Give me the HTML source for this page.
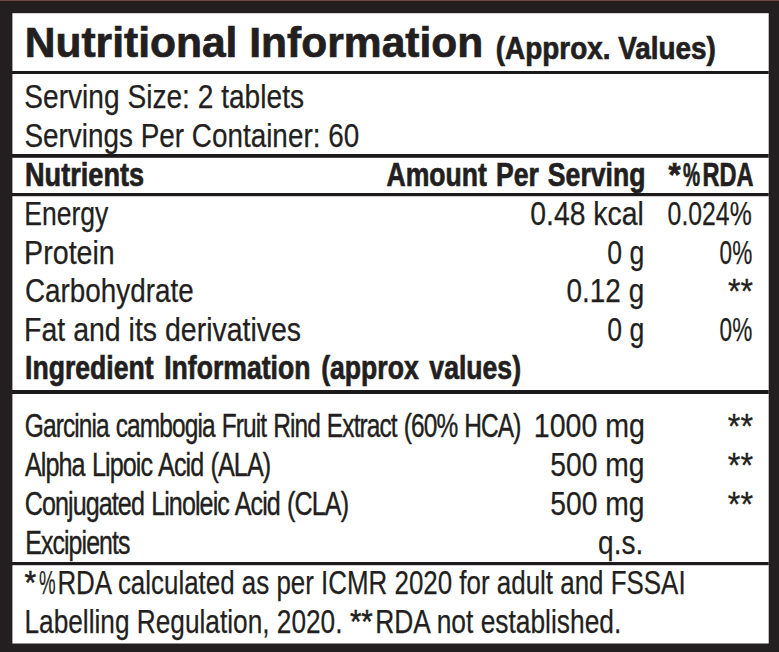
<!DOCTYPE html>
<html><head><meta charset="utf-8"><title>Nutritional Information</title>
<style>
html,body{margin:0;padding:0;background:#231f20;}
body{width:779px;height:652px;overflow:hidden;}
svg{display:block;}
text{fill:#231f20;}
</style></head><body>
<svg width="779" height="652" viewBox="0 0 779 652" font-family="'Liberation Sans', Arial, sans-serif">
<rect x="0" y="0" width="779" height="652" fill="#231f20"/>
<rect x="0" y="0" width="779" height="1.1" fill="#6a4a45"/>
<rect x="0" y="1.1" width="779" height="1.4" fill="#2c1b19"/>
<rect x="12.4" y="13.2" width="756.3" height="630.3" fill="#ffffff"/>
<rect x="12" y="71" width="756.7" height="3" fill="#1c1a1b"/>
<rect x="12" y="154" width="756.7" height="3.8" fill="#1c1a1b"/>
<rect x="12" y="193" width="756.7" height="3.2" fill="#1c1a1b"/>
<rect x="12" y="390" width="756.7" height="4" fill="#1c1a1b"/>
<rect x="12" y="562" width="756.7" height="3.2" fill="#1c1a1b"/>
<text id="t1" x="24.7" y="57.2" font-size="42.0" font-weight="bold" stroke="#231f20" stroke-width="0.7" textLength="458.6" lengthAdjust="spacingAndGlyphs">Nutritional Information</text>
<text id="t2" x="495.8" y="58.5" font-size="30.5" font-weight="bold" stroke="#231f20" stroke-width="0.7" textLength="220.1" lengthAdjust="spacingAndGlyphs">(Approx. Values)</text>
<text id="s1" x="24.3" y="107.9" font-size="33" stroke="#231f20" stroke-width="0.25" textLength="279.7" lengthAdjust="spacingAndGlyphs">Serving Size: 2 tablets</text>
<text id="s2" x="24.4" y="146.5" font-size="33" stroke="#231f20" stroke-width="0.25" textLength="334.8" lengthAdjust="spacingAndGlyphs">Servings Per Container: 60</text>
<text id="h1" x="25.0" y="185.8" font-size="32.5" font-weight="bold" stroke="#231f20" stroke-width="0.7" textLength="119.1" lengthAdjust="spacingAndGlyphs">Nutrients</text>
<text id="h2" x="386.5" y="185.8" font-size="32.5" font-weight="bold" stroke="#231f20" stroke-width="0.7" word-spacing="2" textLength="258.9" lengthAdjust="spacingAndGlyphs">Amount Per Serving</text>
<text id="h3a" x="668.6" y="185.8" font-size="32.5" font-weight="bold" stroke="#231f20" stroke-width="0.7" textLength="12.1" lengthAdjust="spacingAndGlyphs">*</text>
<text id="h3b" x="683.0" y="185.8" font-size="32.5" font-weight="bold" stroke="#231f20" stroke-width="0.7" textLength="17.1" lengthAdjust="spacingAndGlyphs">%</text>
<text id="h3c" x="702.6" y="185.8" font-size="32.5" font-weight="bold" stroke="#231f20" stroke-width="0.7" textLength="51.0" lengthAdjust="spacingAndGlyphs">RDA</text>
<text id="r1a" x="24.2" y="225.1" font-size="33" stroke="#231f20" stroke-width="0.25" textLength="84.1" lengthAdjust="spacingAndGlyphs">Energy</text>
<text id="r1b" x="530.3" y="225.1" font-size="33" stroke="#231f20" stroke-width="0.25" textLength="113.5" lengthAdjust="spacingAndGlyphs">0.48 kcal</text>
<text id="r1c" x="667.6" y="225.1" font-size="33" stroke="#231f20" stroke-width="0.25" textLength="84.1" lengthAdjust="spacingAndGlyphs">0.024%</text>
<text id="r2a" x="24.1" y="263.7" font-size="33" stroke="#231f20" stroke-width="0.25" textLength="90.7" lengthAdjust="spacingAndGlyphs">Protein</text>
<text id="r2b" x="607.3" y="263.7" font-size="33" stroke="#231f20" stroke-width="0.25" textLength="37.0" lengthAdjust="spacingAndGlyphs">0 g</text>
<text id="r2c" x="719.6" y="263.7" font-size="33" stroke="#231f20" stroke-width="0.25" textLength="32.6" lengthAdjust="spacingAndGlyphs">0%</text>
<text id="r3a" x="25.0" y="302.0" font-size="33" stroke="#231f20" stroke-width="0.25" textLength="168.7" lengthAdjust="spacingAndGlyphs">Carbohydrate</text>
<text id="r3b" x="566.5" y="302.0" font-size="33" stroke="#231f20" stroke-width="0.25" textLength="77.7" lengthAdjust="spacingAndGlyphs">0.12 g</text>
<text id="r3c" x="728.0" y="303.3" font-size="35" stroke="#231f20" stroke-width="0.3" textLength="25.0" lengthAdjust="spacingAndGlyphs">**</text>
<text id="r4a" x="24.1" y="340.7" font-size="33" stroke="#231f20" stroke-width="0.25" textLength="277.0" lengthAdjust="spacingAndGlyphs">Fat and its derivatives</text>
<text id="r4b" x="607.3" y="340.7" font-size="33" stroke="#231f20" stroke-width="0.25" textLength="37.0" lengthAdjust="spacingAndGlyphs">0 g</text>
<text id="r4c" x="719.6" y="340.7" font-size="33" stroke="#231f20" stroke-width="0.25" textLength="32.6" lengthAdjust="spacingAndGlyphs">0%</text>
<text id="ii" x="25.0" y="379.2" font-size="32.5" font-weight="bold" stroke="#231f20" stroke-width="0.7" word-spacing="4" textLength="496.0" lengthAdjust="spacingAndGlyphs">Ingredient Information (approx values)</text>
<text id="g1a" x="24.8" y="436.8" font-size="33" stroke="#231f20" stroke-width="0.4" letter-spacing="-1.2" word-spacing="1.5" textLength="495.7" lengthAdjust="spacingAndGlyphs">Garcinia cambogia Fruit Rind Extract (60% HCA)</text>
<text id="g1b" x="533.8" y="436.8" font-size="33" stroke="#231f20" stroke-width="0.25" textLength="111.1" lengthAdjust="spacingAndGlyphs">1000 mg</text>
<text id="g1c" x="727.8" y="438.1" font-size="35" stroke="#231f20" stroke-width="0.3" textLength="25.2" lengthAdjust="spacingAndGlyphs">**</text>
<text id="g2a" x="24.9" y="475.8" font-size="33" stroke="#231f20" stroke-width="0.4" letter-spacing="-1.2" word-spacing="1.5" textLength="245.4" lengthAdjust="spacingAndGlyphs">Alpha Lipoic Acid (ALA)</text>
<text id="g2b" x="550.3" y="475.8" font-size="33" stroke="#231f20" stroke-width="0.25" textLength="94.2" lengthAdjust="spacingAndGlyphs">500 mg</text>
<text id="g2c" x="727.8" y="477.1" font-size="35" stroke="#231f20" stroke-width="0.3" textLength="25.2" lengthAdjust="spacingAndGlyphs">**</text>
<text id="g3a" x="24.7" y="515.0" font-size="33" stroke="#231f20" stroke-width="0.4" letter-spacing="-1.2" word-spacing="1.5" textLength="323.4" lengthAdjust="spacingAndGlyphs">Conjugated Linoleic Acid (CLA)</text>
<text id="g3b" x="550.3" y="515.0" font-size="33" stroke="#231f20" stroke-width="0.25" textLength="94.2" lengthAdjust="spacingAndGlyphs">500 mg</text>
<text id="g3c" x="727.8" y="516.3" font-size="35" stroke="#231f20" stroke-width="0.3" textLength="25.2" lengthAdjust="spacingAndGlyphs">**</text>
<text id="g4a" x="25.2" y="553.8" font-size="33" stroke="#231f20" stroke-width="0.4" letter-spacing="-1.2" textLength="104.4" lengthAdjust="spacingAndGlyphs">Excipients</text>
<text id="g4b" x="598.1" y="553.6" font-size="33" stroke="#231f20" stroke-width="0.25" textLength="45.1" lengthAdjust="spacingAndGlyphs">q.s.</text>
<text id="f1a" x="24.6" y="594.0" font-size="33" stroke="#231f20" stroke-width="0.5" textLength="11.7" lengthAdjust="spacingAndGlyphs">*</text>
<text id="f1b" x="39.0" y="594.0" font-size="33" stroke="#231f20" stroke-width="0.25" textLength="16.6" lengthAdjust="spacingAndGlyphs">%</text>
<text id="f1c" x="57.4" y="594.0" font-size="33" stroke="#231f20" stroke-width="0.25" textLength="628.2" lengthAdjust="spacingAndGlyphs">RDA calculated as per ICMR 2020 for adult and FSSAI</text>
<text id="f2a" x="24.5" y="632.6" font-size="33" stroke="#231f20" stroke-width="0.25" textLength="318.0" lengthAdjust="spacingAndGlyphs">Labelling Regulation, 2020.</text>
<text id="f2b" x="349.9" y="632.6" font-size="33" stroke="#231f20" stroke-width="0.5" textLength="22.8" lengthAdjust="spacingAndGlyphs">**</text>
<text id="f2c" x="375.2" y="632.6" font-size="33" stroke="#231f20" stroke-width="0.25" textLength="246.1" lengthAdjust="spacingAndGlyphs">RDA not established.</text>
</svg>
</body></html>
